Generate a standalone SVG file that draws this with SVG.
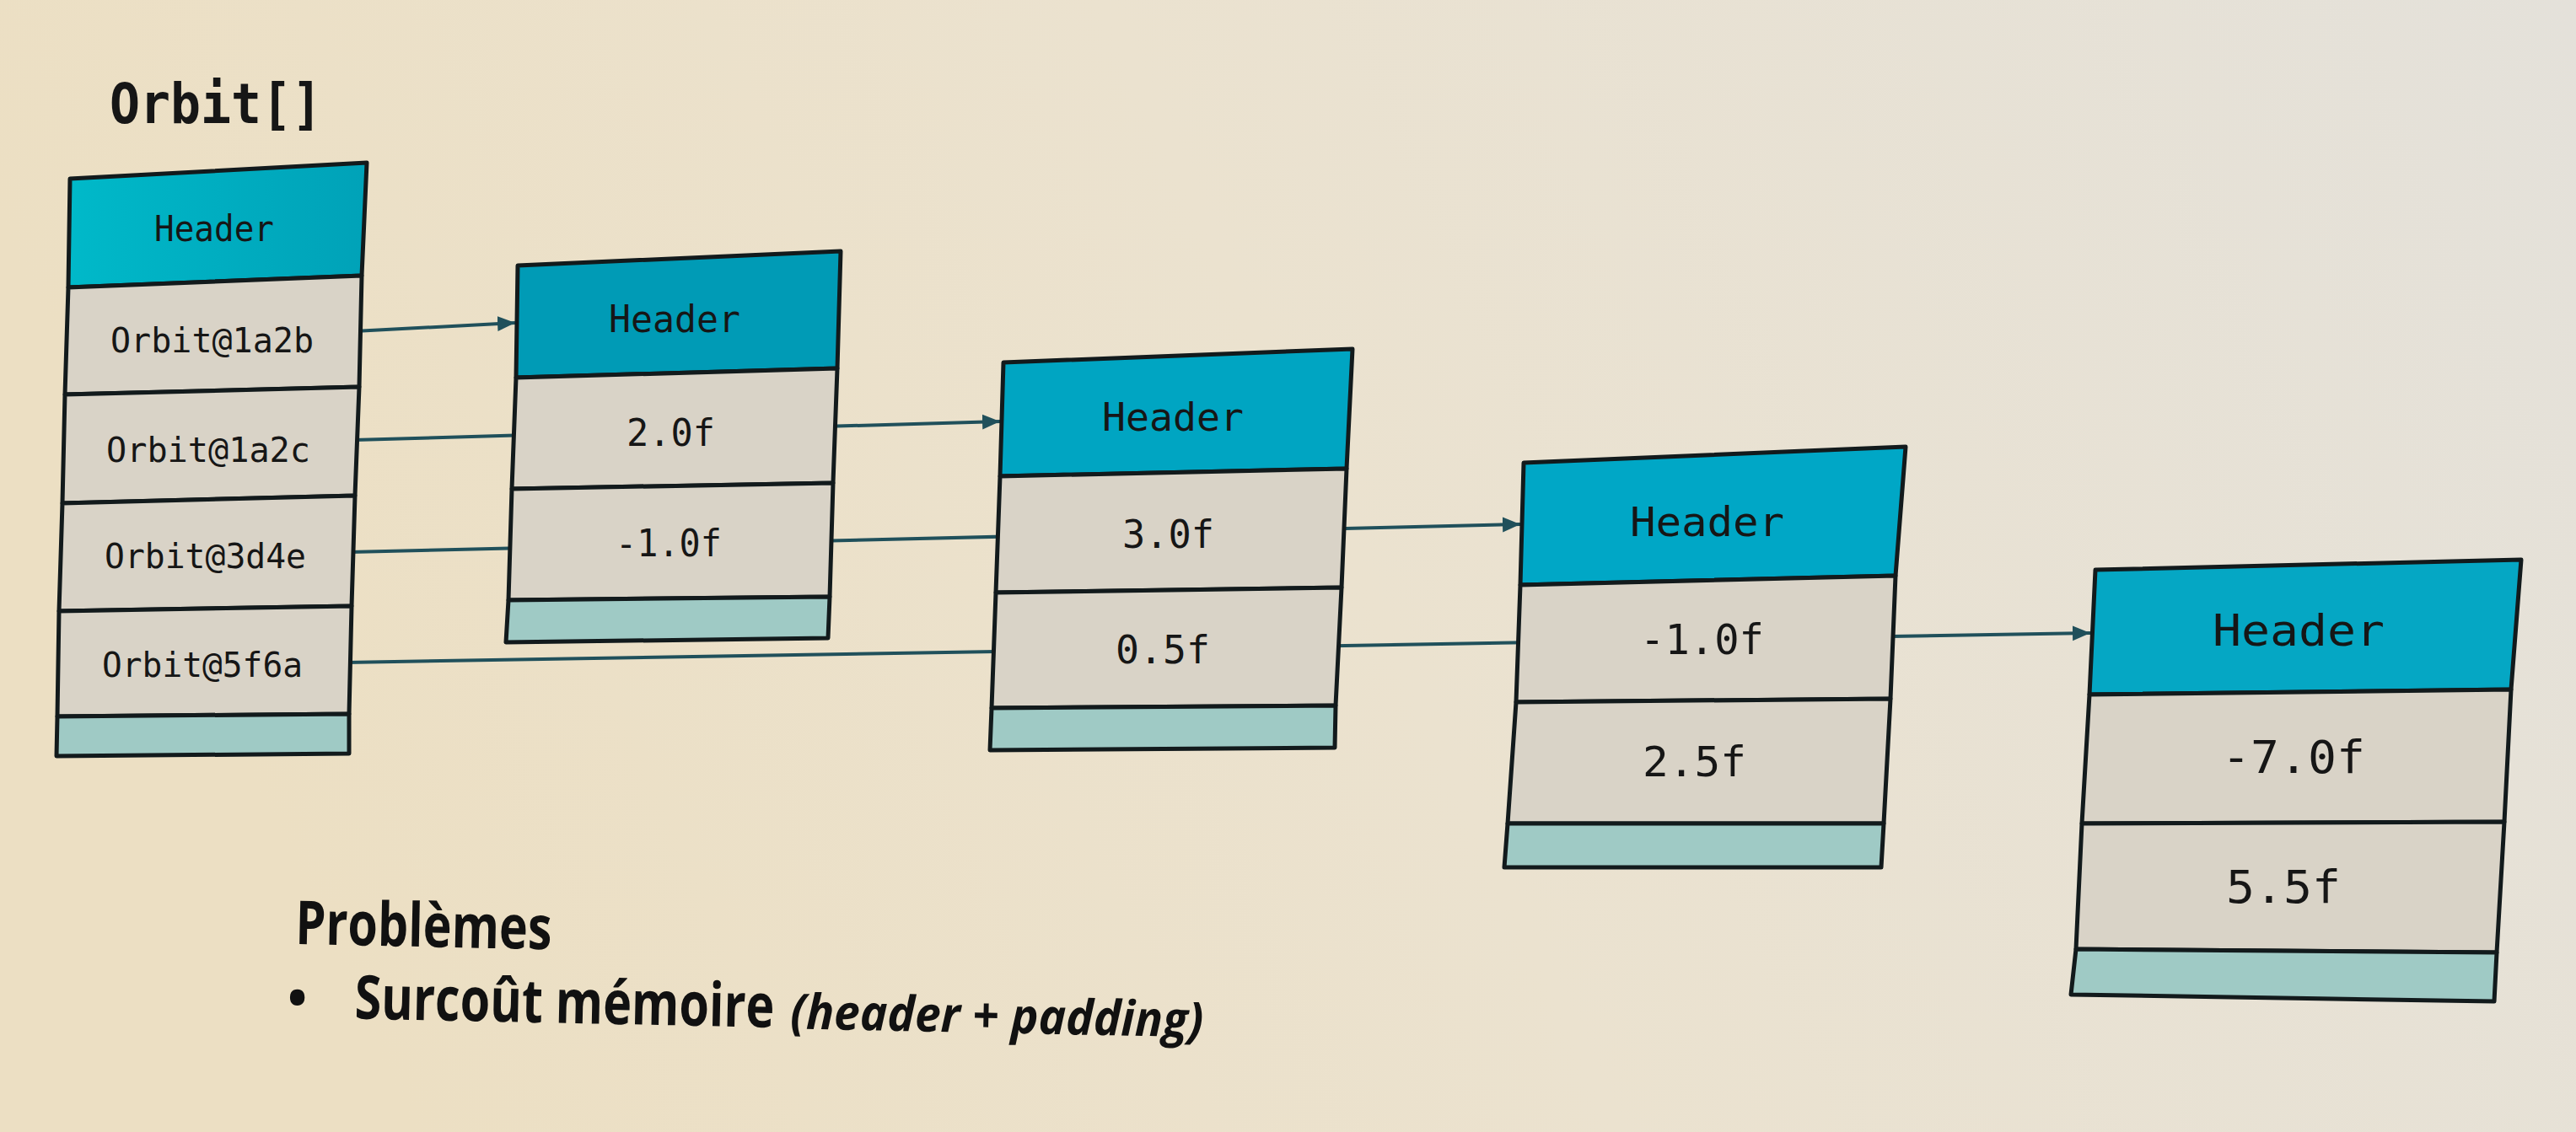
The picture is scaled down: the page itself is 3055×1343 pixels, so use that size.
<svg xmlns="http://www.w3.org/2000/svg" width="3055" height="1343" viewBox="0 0 3055 1343">
<defs>
<linearGradient id="bg" x1="0" y1="0.2" x2="1" y2="0">
<stop offset="0" stop-color="#ecdfc3"/>
<stop offset="0.45" stop-color="#ebe2cf"/>
<stop offset="1" stop-color="#e4e1da"/>
</linearGradient>
<linearGradient id="hdrA" x1="0" y1="0" x2="1" y2="0">
<stop offset="0" stop-color="#00b9c9"/>
<stop offset="1" stop-color="#00a2b8"/>
</linearGradient>
<marker id="arr" markerUnits="userSpaceOnUse" markerWidth="22" markerHeight="20" refX="21" refY="10" orient="auto">
<path d="M0,1 L21,10 L0,19 z" fill="#20505b"/>
</marker>
<style>
.hdr{fill:#00a5c2;stroke:#121a1c;stroke-width:5;stroke-linejoin:round}
.row{fill:#d9d3c7;stroke:#121a1c;stroke-width:5;stroke-linejoin:round}
.pad{fill:#9fcac5;stroke:#121a1c;stroke-width:5;stroke-linejoin:round}
.mono{font-family:"DejaVu Sans Mono","Liberation Mono",monospace;fill:#161616}
.link{stroke:#20505b;stroke-width:4;fill:none}
.ui{font-family:"Open Sans","Noto Sans","Liberation Sans",sans-serif;font-weight:700;fill:#111}
</style>
</defs>
<rect x="0" y="0" width="3055" height="1343" fill="url(#bg)"/>

<text class="mono" x="130" y="146" font-size="66" font-weight="700" textLength="252" lengthAdjust="spacingAndGlyphs">Orbit[]</text>

<g id="connectors">
<line class="link" x1="420" y1="393" x2="611" y2="383" marker-end="url(#arr)"/>
<line class="link" x1="420" y1="522" x2="1186" y2="500" marker-end="url(#arr)"/>
<line class="link" x1="415" y1="655" x2="1803" y2="622" marker-end="url(#arr)"/>
<line class="link" x1="410" y1="786" x2="2479" y2="751" marker-end="url(#arr)"/>
</g>

<g id="orbit-array">
<polygon class="hdr" style="fill:url(#hdrA)" points="83,212 435,193 429,327 81,341"/>
<polygon class="row" points="81,341 429,327 426,459 77,468"/>
<polygon class="row" points="77,468 426,459 421,588 74,597"/>
<polygon class="row" points="74,597 421,588 417,719 70,725"/>
<polygon class="row" points="70,725 417,719 414,847 68,850"/>
<polygon class="pad" points="68,850 414,847 414,894 67,897"/>
<text class="mono" x="183" y="286" font-size="43" textLength="142" lengthAdjust="spacingAndGlyphs">Header</text>
<text class="mono" x="131" y="418" font-size="41" textLength="241" lengthAdjust="spacingAndGlyphs">Orbit@1a2b</text>
<text class="mono" x="126" y="548" font-size="41" textLength="242" lengthAdjust="spacingAndGlyphs">Orbit@1a2c</text>
<text class="mono" x="124" y="674" font-size="41" textLength="239" lengthAdjust="spacingAndGlyphs">Orbit@3d4e</text>
<text class="mono" x="121" y="803" font-size="41" textLength="238" lengthAdjust="spacingAndGlyphs">Orbit@5f6a</text>
</g>

<g id="orbit-1a2b">
<polygon class="hdr" style="fill:#009bb6" points="614,315 997,298 993,437 612,448"/>
<polygon class="row" points="612,448 993,437 988,573 607,580"/>
<polygon class="row" points="607,580 988,573 984,708 603,712"/>
<polygon class="pad" points="603,712 984,708 982,757 600,762"/>
<text class="mono" x="722" y="394" font-size="44" textLength="156" lengthAdjust="spacingAndGlyphs">Header</text>
<text class="mono" x="743" y="529" font-size="45" textLength="105" lengthAdjust="spacingAndGlyphs">2.0f</text>
<text class="mono" x="730" y="660" font-size="45" textLength="126" lengthAdjust="spacingAndGlyphs">-1.0f</text>
</g>

<g id="orbit-1a2c">
<polygon class="hdr" points="1190,430 1604,414 1597,556 1186,565"/>
<polygon class="row" points="1186,565 1597,556 1591,697 1181,703"/>
<polygon class="row" points="1181,703 1591,697 1584,837 1176,840"/>
<polygon class="pad" points="1176,840 1584,837 1583,887 1174,890"/>
<text class="mono" x="1307" y="511" font-size="46" textLength="168" lengthAdjust="spacingAndGlyphs">Header</text>
<text class="mono" x="1331" y="650" font-size="47" textLength="109" lengthAdjust="spacingAndGlyphs">3.0f</text>
<text class="mono" x="1323" y="787" font-size="47" textLength="112" lengthAdjust="spacingAndGlyphs">0.5f</text>
</g>

<g id="orbit-3d4e">
<polygon class="hdr" style="fill:#00a7c6" points="1807,549 2260,530 2248,683 1803,694"/>
<polygon class="row" points="1803,694 2248,683 2242,829 1798,833"/>
<polygon class="row" points="1798,833 2242,829 2234,977 1788,977"/>
<polygon class="pad" points="1788,977 2234,977 2231,1029 1784,1029"/>
<text class="mono" x="1933" y="636" font-size="48" textLength="183" lengthAdjust="spacingAndGlyphs">Header</text>
<text class="mono" x="1945" y="776" font-size="49" textLength="147" lengthAdjust="spacingAndGlyphs">-1.0f</text>
<text class="mono" x="1948" y="921" font-size="49" textLength="123" lengthAdjust="spacingAndGlyphs">2.5f</text>
</g>

<g id="orbit-5f6a">
<polygon class="hdr" style="fill:#05a7c4" points="2485,676 2990,664 2978,818 2478,824"/>
<polygon class="row" points="2478,824 2978,818 2970,975 2469,977"/>
<polygon class="row" points="2469,977 2970,975 2961,1130 2462,1126"/>
<polygon class="pad" points="2462,1126 2961,1130 2958,1188 2456,1180"/>
<text class="mono" x="2624" y="766" font-size="52" textLength="204" lengthAdjust="spacingAndGlyphs">Header</text>
<text class="mono" x="2635" y="917" font-size="53" textLength="170" lengthAdjust="spacingAndGlyphs">-7.0f</text>
<text class="mono" x="2640" y="1071" font-size="53" textLength="136" lengthAdjust="spacingAndGlyphs">5.5f</text>
</g>

<g id="notes" transform="rotate(1.2 350 1120)">
<text class="ui" x="350" y="1120" font-size="72" textLength="304" lengthAdjust="spacingAndGlyphs">Problèmes</text>
<text class="ui" x="354" y="1206" font-size="62" text-anchor="middle">•</text>
<text class="ui" x="422" y="1207" font-size="72" textLength="498" lengthAdjust="spacingAndGlyphs">Surcoût mémoire</text>
<text class="ui" x="939" y="1208" font-size="58" font-style="italic" textLength="490" lengthAdjust="spacingAndGlyphs">(header + padding)</text>
</g>
</svg>
